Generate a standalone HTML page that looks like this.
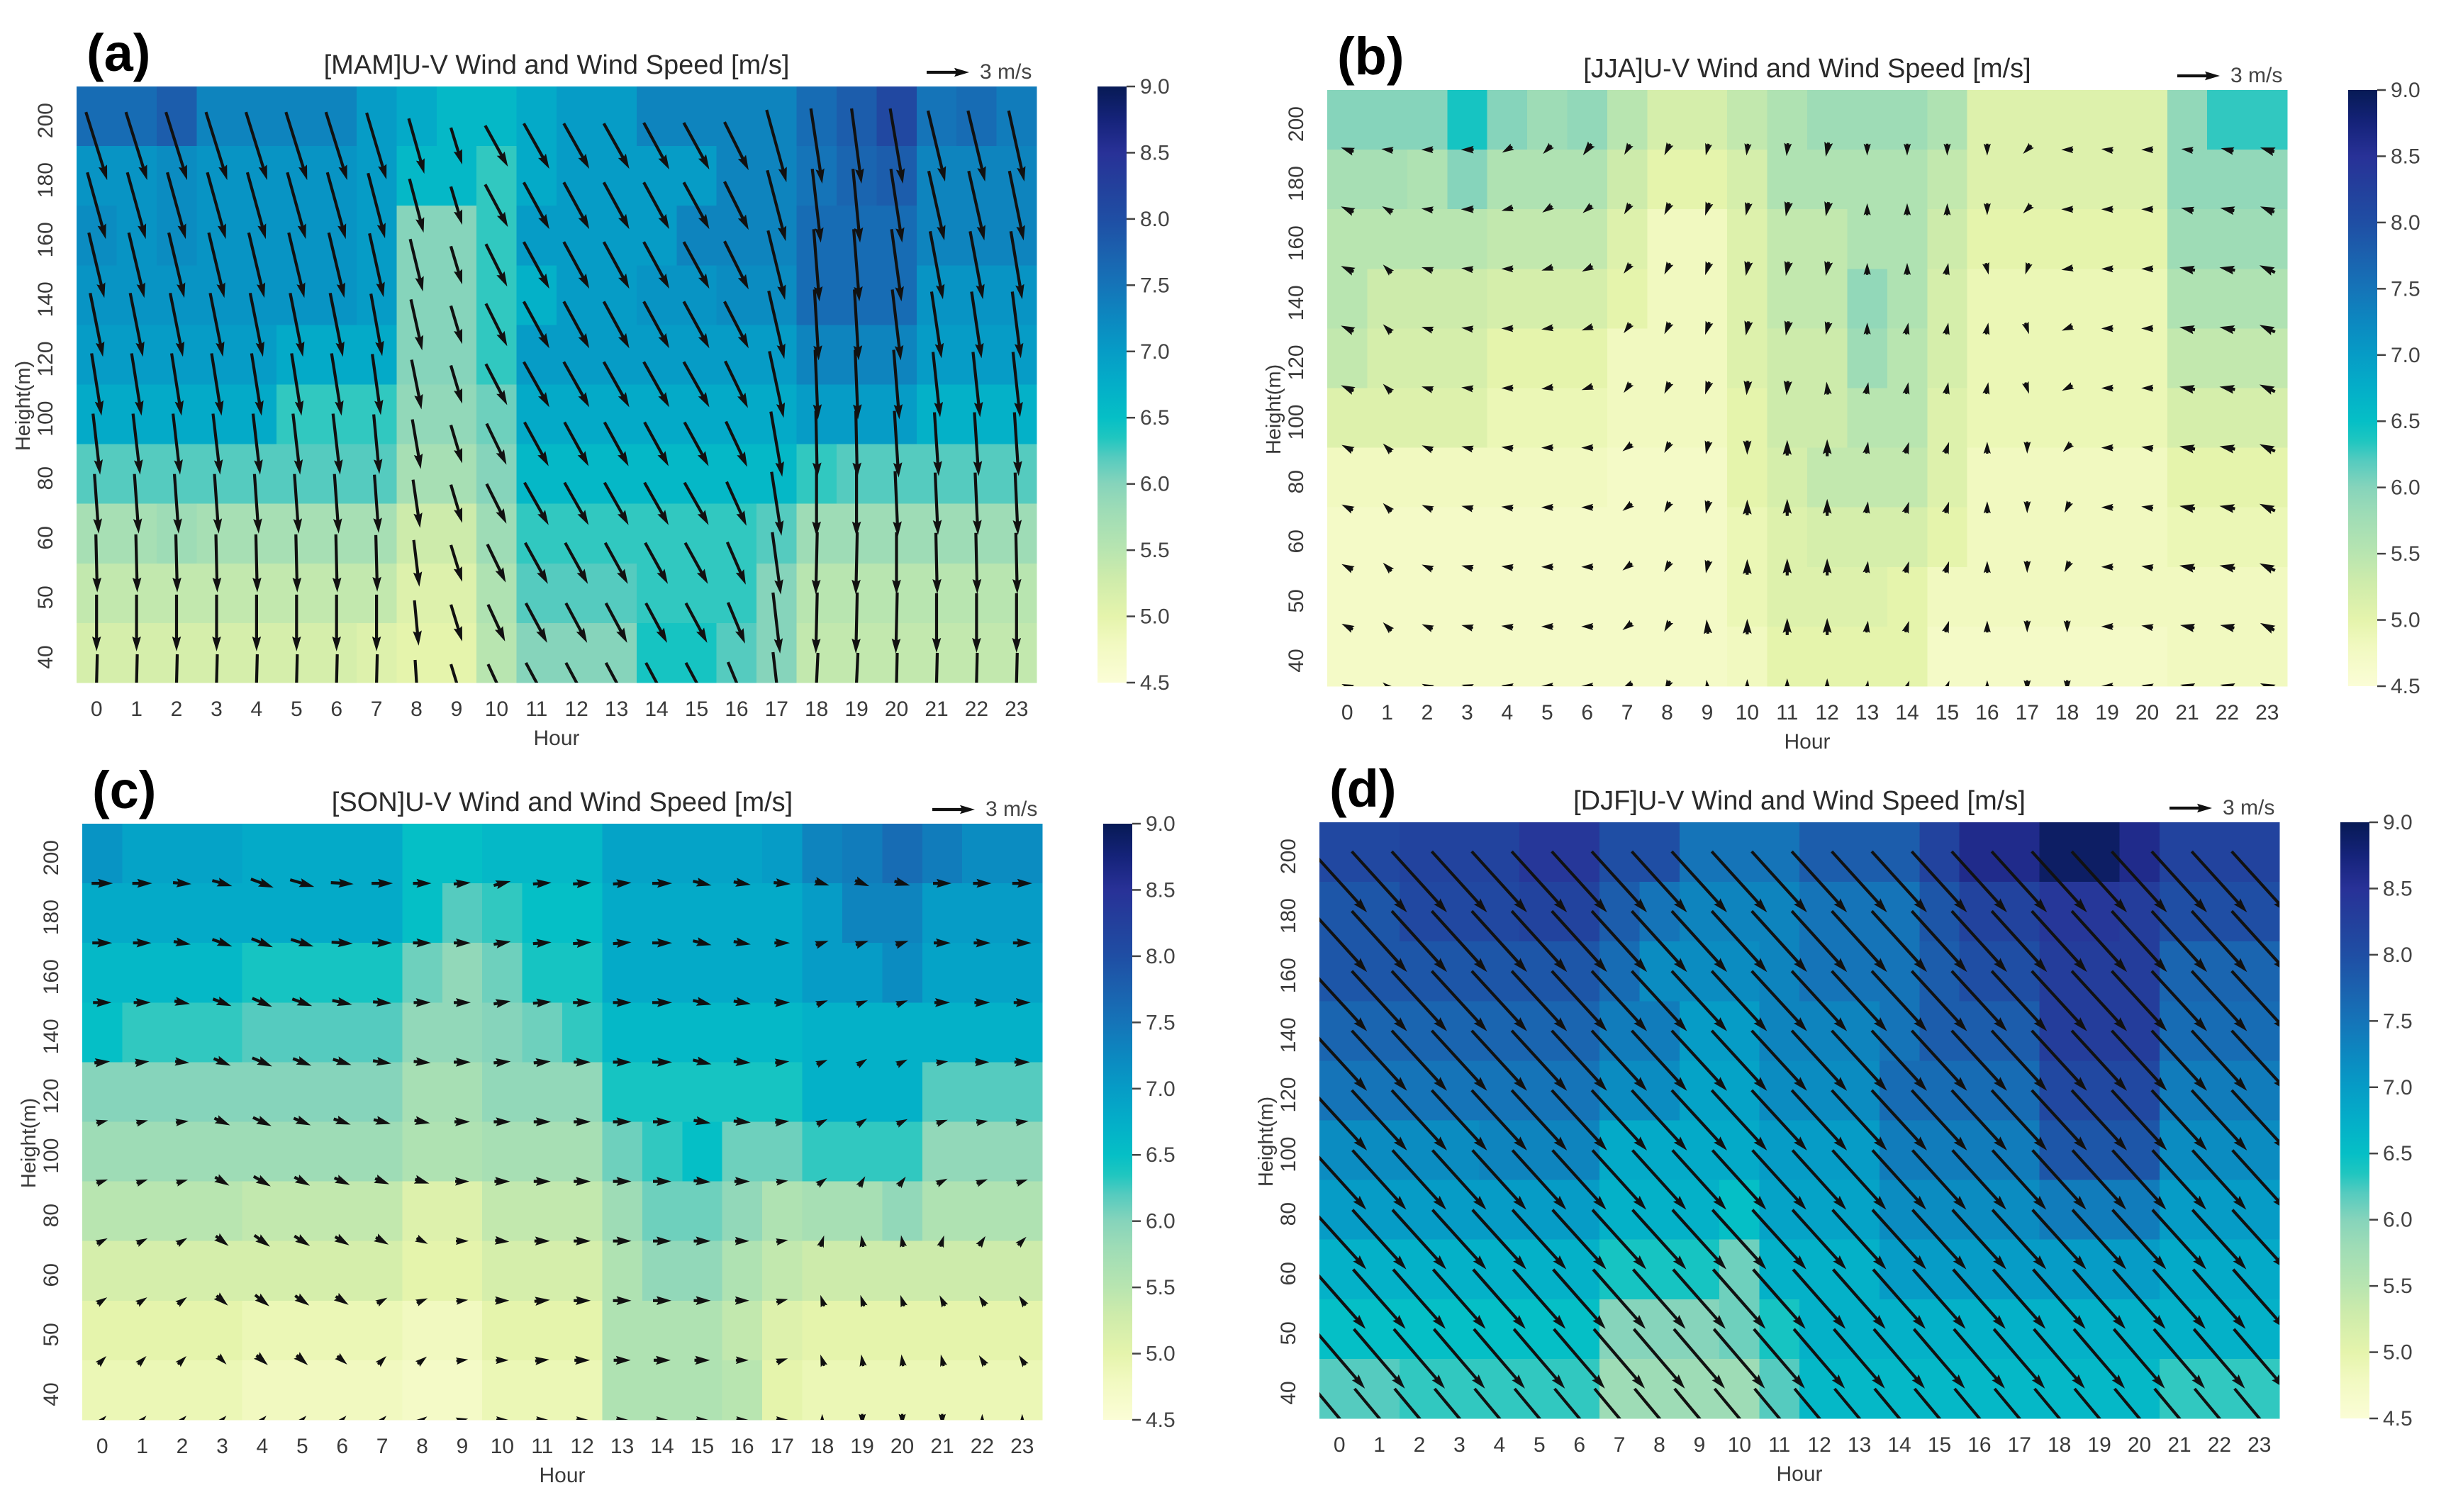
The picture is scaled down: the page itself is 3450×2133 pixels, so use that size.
<!DOCTYPE html>
<html><head><meta charset="utf-8">
<style>
html,body{margin:0;padding:0;background:#fff;}
svg{display:block;font-family:"Liberation Sans",sans-serif;}
</style></head>
<body>
<svg id="fig" width="3450" height="2133" viewBox="0 0 3450 2133" xmlns="http://www.w3.org/2000/svg">
<rect x="0" y="0" width="3450" height="2133" fill="#ffffff"/>
</svg>
<script>
// ---------- shared labels ----------
const hours = ["0","1","2","3","4","5","6","7","8","9","10","11","12","13","14","15","16","17","18","19","20","21","22","23"];
const heights = ["200","180","160","140","120","100","80","60","50","40"]; // top -> bottom
const cbarTicks = [4.5,5.0,5.5,6.0,6.5,7.0,7.5,8.0,8.5,9.0];
const vmin = 4.5, vmax = 9.0;

// ---------- (a) MAM ----------
const speedMAM = [
[7.6,7.6,7.8,7.3,7.3,7.3,7.3,7.0,6.8,6.6,6.6,6.8,7.0,7.0,7.3,7.3,7.3,7.3,7.6,7.8,8.1,7.5,7.6,7.4],
[7.1,7.1,7.2,7.1,7.1,7.1,7.1,7.0,6.6,6.6,6.3,6.8,7.0,7.0,7.0,7.0,7.3,7.3,7.5,7.7,7.8,7.3,7.3,7.3],
[7.2,7.1,7.2,7.1,7.1,7.1,7.1,7.0,6.0,6.0,6.3,7.0,7.0,7.0,7.0,7.3,7.3,7.3,7.6,7.6,7.6,7.3,7.3,7.3],
[7.1,7.1,7.1,7.1,7.1,7.1,7.1,7.0,6.0,6.0,6.3,6.7,7.0,7.0,7.1,7.1,7.2,7.2,7.6,7.6,7.6,7.1,7.1,7.1],
[7.0,7.0,7.0,7.0,7.0,6.8,6.8,6.8,6.0,6.0,6.3,7.0,7.0,7.0,7.0,7.0,7.0,7.0,7.3,7.3,7.3,7.0,7.0,7.0],
[6.8,6.8,6.8,6.8,6.8,6.3,6.3,6.3,5.9,5.9,6.1,6.8,6.8,6.8,6.8,6.8,6.8,6.8,7.0,7.0,7.0,6.7,6.7,6.7],
[6.2,6.2,6.2,6.2,6.2,6.2,6.2,6.2,5.7,5.7,6.0,6.6,6.6,6.6,6.6,6.6,6.6,6.6,6.3,6.2,6.2,6.2,6.2,6.2],
[5.7,5.7,5.8,5.7,5.7,5.7,5.7,5.7,5.3,5.3,5.8,6.3,6.3,6.3,6.3,6.3,6.3,6.2,5.8,5.8,5.8,5.8,5.8,5.8],
[5.4,5.4,5.4,5.4,5.4,5.4,5.4,5.4,5.1,5.1,5.6,6.2,6.2,6.2,6.3,6.3,6.3,6.0,5.5,5.5,5.5,5.5,5.5,5.5],
[5.2,5.2,5.2,5.2,5.2,5.2,5.2,5.1,5.0,5.0,5.5,6.0,6.0,6.0,6.4,6.4,6.2,6.0,5.4,5.4,5.4,5.4,5.4,5.4]];
const uMAM = [
[1.5,1.5,1.5,1.5,1.5,1.5,1.5,1.4,1.1,0.8,1.6,1.8,1.8,1.8,1.8,1.8,1.7,1.4,0.8,0.7,0.9,1.2,1.2,1.1],
[1.3,1.3,1.3,1.3,1.3,1.3,1.3,1.2,1.0,0.8,1.6,1.8,1.8,1.8,1.8,1.8,1.7,1.3,0.6,0.5,0.8,1.1,1.1,1.0],
[1.1,1.1,1.1,1.1,1.1,1.1,1.1,1.0,0.9,0.8,1.5,1.8,1.8,1.8,1.8,1.8,1.7,1.2,0.4,0.4,0.7,0.9,0.9,0.8],
[0.9,0.9,0.9,0.9,0.9,0.9,0.9,0.8,0.8,0.8,1.5,1.8,1.8,1.8,1.8,1.8,1.7,1.1,0.3,0.3,0.6,0.7,0.7,0.6],
[0.7,0.7,0.7,0.7,0.7,0.7,0.7,0.6,0.7,0.8,1.5,1.8,1.8,1.8,1.8,1.8,1.6,1.0,0.2,0.2,0.4,0.5,0.5,0.5],
[0.5,0.5,0.5,0.5,0.5,0.5,0.5,0.4,0.6,0.8,1.4,1.7,1.7,1.7,1.7,1.7,1.5,0.8,0.1,0.1,0.3,0.3,0.3,0.3],
[0.3,0.3,0.3,0.3,0.3,0.3,0.3,0.3,0.5,0.8,1.4,1.7,1.7,1.7,1.7,1.7,1.4,0.7,0.0,0.0,0.2,0.2,0.2,0.2],
[0.1,0.1,0.1,0.1,0.1,0.1,0.1,0.1,0.4,0.8,1.3,1.6,1.6,1.6,1.6,1.6,1.3,0.6,-0.1,-0.1,0.0,0.1,0.1,0.1],
[0.0,0.0,0.0,0.0,0.0,0.0,0.0,0.0,0.3,0.8,1.2,1.5,1.5,1.5,1.5,1.5,1.2,0.5,-0.1,-0.1,-0.1,0.0,0.0,0.0],
[-0.1,-0.1,-0.1,-0.1,-0.1,-0.1,-0.1,-0.1,0.2,0.8,1.2,1.5,1.5,1.5,1.5,1.5,1.2,0.5,-0.2,-0.2,-0.1,-0.1,-0.1,-0.1]];
const vMAM = [
[-4.8,-4.8,-4.8,-4.8,-4.8,-4.8,-4.8,-4.7,-3.9,-2.6,-2.9,-3.2,-3.2,-3.2,-3.3,-3.3,-3.4,-5.1,-5.3,-5.3,-5.3,-5.0,-5.0,-5.0],
[-4.7,-4.7,-4.7,-4.7,-4.7,-4.7,-4.7,-4.6,-3.8,-2.7,-3.0,-3.3,-3.3,-3.3,-3.3,-3.3,-3.4,-5.0,-5.2,-5.2,-5.2,-4.9,-4.9,-4.9],
[-4.6,-4.6,-4.6,-4.6,-4.6,-4.6,-4.6,-4.5,-3.7,-2.7,-3.0,-3.3,-3.3,-3.3,-3.3,-3.3,-3.4,-4.9,-5.1,-5.1,-5.1,-4.8,-4.8,-4.8],
[-4.5,-4.5,-4.5,-4.5,-4.5,-4.5,-4.5,-4.4,-3.6,-2.7,-3.0,-3.3,-3.3,-3.3,-3.3,-3.3,-3.3,-4.8,-5.0,-5.0,-5.0,-4.7,-4.7,-4.7],
[-4.4,-4.4,-4.4,-4.4,-4.4,-4.4,-4.4,-4.3,-3.5,-2.7,-2.9,-3.2,-3.2,-3.2,-3.2,-3.2,-3.3,-4.7,-4.9,-4.9,-4.9,-4.6,-4.6,-4.6],
[-4.3,-4.3,-4.3,-4.3,-4.3,-4.3,-4.3,-4.2,-3.5,-2.7,-2.9,-3.1,-3.1,-3.1,-3.1,-3.1,-3.2,-4.6,-4.7,-4.7,-4.7,-4.5,-4.5,-4.5],
[-4.2,-4.2,-4.2,-4.2,-4.2,-4.2,-4.2,-4.1,-3.4,-2.7,-2.8,-3.0,-3.0,-3.0,-3.0,-3.0,-3.1,-4.5,-4.6,-4.6,-4.6,-4.4,-4.4,-4.4],
[-4.1,-4.1,-4.1,-4.1,-4.1,-4.1,-4.1,-4.0,-3.3,-2.6,-2.7,-2.9,-2.9,-2.9,-2.9,-2.9,-3.0,-4.4,-4.4,-4.4,-4.4,-4.3,-4.3,-4.3],
[-4.0,-4.0,-4.0,-4.0,-4.0,-4.0,-4.0,-4.0,-3.2,-2.6,-2.6,-2.8,-2.8,-2.8,-2.8,-2.8,-2.9,-4.3,-4.3,-4.3,-4.3,-4.2,-4.2,-4.2],
[-4.0,-4.0,-4.0,-4.0,-4.0,-4.0,-4.0,-4.0,-3.2,-2.6,-2.6,-2.8,-2.8,-2.8,-2.8,-2.8,-2.9,-4.3,-4.2,-4.2,-4.2,-4.2,-4.2,-4.2]];

// ---------- (b) JJA ----------
const speedJJA = [
[6.0,6.0,6.0,6.4,6.0,5.8,5.9,5.5,5.2,5.2,5.4,5.6,5.8,5.8,5.8,5.6,5.1,5.1,5.1,5.1,5.1,5.9,6.3,6.3],
[5.7,5.7,5.6,6.0,5.6,5.6,5.6,5.3,5.0,5.0,5.2,5.6,5.6,5.6,5.6,5.4,5.1,5.1,5.1,5.1,5.1,5.9,5.9,5.9],
[5.5,5.5,5.5,5.5,5.4,5.4,5.4,5.1,4.8,4.8,5.1,5.4,5.4,5.6,5.6,5.3,5.0,5.0,5.0,5.0,5.0,5.8,5.8,5.8],
[5.5,5.3,5.3,5.3,5.2,5.2,5.2,5.0,4.8,4.8,5.1,5.4,5.4,5.9,5.6,5.2,4.9,4.9,4.9,4.9,4.9,5.6,5.6,5.6],
[5.4,5.2,5.2,5.2,5.0,5.0,5.0,4.8,4.8,4.8,5.1,5.3,5.3,5.8,5.5,5.2,4.9,4.9,4.9,4.9,4.9,5.4,5.4,5.4],
[5.1,5.1,5.1,5.1,4.9,4.9,4.9,4.8,4.8,4.8,5.0,5.3,5.3,5.5,5.5,5.1,4.9,4.9,4.9,4.9,4.9,5.2,5.2,5.2],
[4.8,4.8,4.8,4.8,4.8,4.8,4.8,4.7,4.7,4.7,5.0,5.2,5.4,5.4,5.4,5.1,4.8,4.8,4.8,4.8,4.8,5.0,5.0,5.0],
[4.7,4.7,4.7,4.7,4.7,4.7,4.7,4.7,4.7,4.7,4.9,5.1,5.2,5.2,5.2,5.0,4.8,4.8,4.8,4.8,4.8,4.9,4.9,4.9],
[4.7,4.7,4.7,4.7,4.7,4.7,4.7,4.7,4.7,4.7,4.9,5.1,5.1,5.1,5.0,4.8,4.8,4.8,4.8,4.8,4.8,4.8,4.8,4.8],
[4.7,4.7,4.7,4.7,4.7,4.7,4.7,4.7,4.7,4.7,4.8,5.0,5.0,5.0,5.0,4.7,4.7,4.7,4.7,4.7,4.7,4.8,4.8,4.8]];
const uJJA = [
[-0.9,-0.8,-0.8,-0.9,-0.7,-0.6,-0.6,-0.4,-0.4,-0.2,-0.1,-0.1,-0.2,0.0,0.0,0.0,0.0,-0.2,-0.7,-0.8,-0.7,-0.8,-0.9,-1.0],
[-0.9,-0.7,-0.8,-0.9,-0.8,-0.6,-0.6,-0.3,-0.4,-0.3,-0.2,-0.2,-0.2,0.0,0.0,0.0,0.0,-0.2,-0.7,-0.8,-0.8,-0.9,-1.0,-1.0],
[-0.9,-0.6,-0.7,-0.8,-0.8,-0.7,-0.6,-0.3,-0.4,-0.3,-0.2,-0.2,-0.2,0.0,0.0,0.1,0.1,-0.1,-0.6,-0.8,-0.8,-1.1,-1.1,-1.1],
[-0.9,-0.6,-0.7,-0.8,-0.8,-0.7,-0.6,-0.3,-0.4,-0.3,-0.2,-0.2,-0.2,0.0,0.1,0.1,0.1,0.1,-0.5,-0.7,-0.8,-1.1,-1.1,-1.1],
[-0.9,-0.6,-0.7,-0.8,-0.8,-0.7,-0.6,-0.3,-0.4,-0.3,-0.1,-0.1,-0.1,0.1,0.1,0.1,0.1,0.1,-0.4,-0.6,-0.8,-1.1,-1.1,-1.1],
[-0.8,-0.6,-0.7,-0.8,-0.8,-0.8,-0.7,-0.4,-0.4,-0.2,0.0,0.0,0.0,0.1,0.2,0.2,0.0,0.0,-0.2,-0.5,-0.7,-1.1,-1.1,-1.1],
[-0.8,-0.6,-0.7,-0.8,-0.8,-0.8,-0.7,-0.4,-0.4,-0.2,0.0,0.0,0.0,0.1,0.2,0.2,0.0,0.0,-0.1,-0.4,-0.7,-1.1,-1.1,-1.1],
[-0.8,-0.6,-0.7,-0.8,-0.8,-0.8,-0.7,-0.4,-0.4,-0.2,0.0,0.0,0.0,0.1,0.2,0.2,0.0,0.0,-0.1,-0.4,-0.7,-1.1,-1.1,-1.1],
[-0.8,-0.6,-0.7,-0.8,-0.8,-0.8,-0.7,-0.4,-0.4,-0.1,0.0,0.0,0.0,0.1,0.2,0.2,0.0,0.0,0.0,-0.3,-0.6,-1.0,-1.0,-1.0],
[-0.8,-0.6,-0.7,-0.8,-0.8,-0.8,-0.7,-0.4,-0.3,-0.1,0.0,0.0,0.0,0.1,0.2,0.2,0.0,0.0,0.0,-0.3,-0.6,-1.0,-1.0,-1.0]];
const vJJA = [
[0.3,0.1,0.0,0.0,-0.4,-0.6,-0.8,-0.7,-0.8,-0.8,-0.8,-0.9,-1.0,-0.5,-0.4,-0.3,-0.2,-0.2,0.0,0.1,0.0,0.1,0.2,0.3],
[0.4,0.4,0.1,0.0,-0.2,-0.4,-0.5,-0.5,-0.8,-0.9,-0.9,-1.0,-1.0,0.4,0.4,0.5,-0.3,-0.2,0.0,0.0,0.0,0.2,0.2,0.4],
[0.4,0.6,0.2,0.1,0.0,-0.2,-0.3,-0.4,-0.8,-0.9,-1.0,-1.0,-1.0,0.5,0.5,0.5,-0.4,-0.3,-0.1,0.0,0.0,0.2,0.2,0.5],
[0.4,0.6,0.2,0.1,0.0,-0.1,-0.2,-0.4,-0.8,-0.9,-1.0,-1.0,-0.9,0.5,0.5,0.5,0.5,-0.3,-0.2,0.0,0.0,0.2,0.2,0.5],
[0.4,0.6,0.2,0.1,0.0,-0.1,-0.2,-0.4,-0.8,-0.9,-1.0,-1.0,0.9,0.5,0.5,0.5,0.5,-0.3,-0.2,0.0,0.0,0.2,0.2,0.5],
[0.4,0.6,0.3,0.2,0.1,0.0,0.0,-0.3,-0.7,-0.9,-1.0,1.1,1.2,0.6,0.6,0.6,0.6,-0.3,-0.2,0.0,0.1,0.2,0.2,0.5],
[0.4,0.6,0.3,0.2,0.1,0.0,0.0,-0.3,-0.7,-0.9,1.1,1.2,1.2,0.7,0.6,0.6,0.7,-0.3,-0.2,0.0,0.1,0.2,0.2,0.5],
[0.4,0.6,0.3,0.2,0.1,0.0,0.0,-0.3,-0.7,-0.9,1.1,1.2,1.2,0.7,0.6,0.6,0.7,-0.3,-0.2,0.0,0.1,0.2,0.2,0.5],
[0.4,0.6,0.3,0.2,0.1,0.0,0.0,-0.3,-0.7,1.0,1.1,1.2,1.2,0.7,0.6,0.6,0.7,-0.3,-0.1,0.0,0.1,0.2,0.2,0.5],
[0.3,0.5,0.3,0.2,0.1,0.0,0.0,-0.2,-0.6,0.9,1.0,1.1,1.1,0.6,0.5,0.5,0.6,-0.2,-0.1,0.0,0.1,0.2,0.2,0.4]];

// ---------- (c) SON ----------
const speedSON = [
[7.1,6.9,6.9,6.9,6.8,6.8,6.8,6.8,6.5,6.5,6.6,6.6,6.6,6.9,6.9,6.9,6.9,7.0,7.3,7.4,7.6,7.4,7.2,7.2],
[6.8,6.8,6.8,6.8,6.8,6.8,6.8,6.8,6.5,6.2,6.3,6.5,6.5,6.8,6.8,6.8,6.8,6.8,7.0,7.3,7.3,7.0,7.0,7.0],
[6.6,6.6,6.6,6.6,6.4,6.4,6.4,6.4,6.1,5.9,6.1,6.4,6.4,6.8,6.8,6.8,6.8,6.8,7.0,7.0,7.2,6.9,6.9,6.9],
[6.5,6.3,6.3,6.3,6.2,6.2,6.2,6.2,5.9,5.9,6.0,6.1,6.3,6.6,6.6,6.6,6.6,6.6,6.7,6.7,6.7,6.7,6.7,6.7],
[6.0,6.0,6.0,6.0,6.0,6.0,6.0,6.0,5.7,5.7,5.9,5.9,5.9,6.4,6.4,6.4,6.4,6.4,6.7,6.7,6.7,6.2,6.2,6.2],
[5.8,5.8,5.8,5.8,5.8,5.8,5.8,5.8,5.6,5.6,5.7,5.7,5.7,6.1,6.3,6.5,6.1,6.1,6.3,6.3,6.3,5.9,5.9,5.9],
[5.5,5.5,5.5,5.5,5.4,5.4,5.4,5.4,5.1,5.1,5.4,5.4,5.4,5.8,6.1,6.1,5.9,5.6,5.7,5.7,5.9,5.6,5.6,5.6],
[5.2,5.2,5.2,5.2,5.2,5.2,5.2,5.2,5.0,5.0,5.2,5.2,5.2,5.6,5.9,5.9,5.6,5.4,5.3,5.3,5.3,5.3,5.3,5.3],
[5.0,5.0,5.0,5.0,4.9,4.9,4.9,4.9,4.8,4.8,5.0,5.0,5.0,5.6,5.6,5.6,5.4,5.1,5.0,5.0,5.0,5.0,5.0,5.0],
[4.9,4.9,4.9,4.9,4.8,4.8,4.8,4.8,4.7,4.7,4.9,4.9,4.9,5.6,5.6,5.6,5.5,5.0,4.9,4.9,4.9,4.9,4.9,4.9]];
const uSON = [
[1.5,1.4,1.3,1.4,1.6,1.7,1.6,1.5,1.3,1.2,1.2,1.3,1.3,1.3,1.4,1.3,1.2,1.2,1.0,1.0,1.1,1.3,1.3,1.4],
[1.4,1.3,1.2,1.4,1.5,1.6,1.5,1.4,1.3,1.2,1.2,1.3,1.3,1.3,1.4,1.3,1.2,1.1,0.9,0.9,0.9,1.2,1.2,1.3],
[1.3,1.2,1.1,1.3,1.4,1.4,1.4,1.3,1.2,1.2,1.2,1.3,1.3,1.3,1.4,1.3,1.2,1.1,0.8,0.8,0.8,1.1,1.1,1.2],
[1.1,1.0,1.0,1.2,1.4,1.3,1.3,1.3,1.2,1.2,1.2,1.2,1.2,1.3,1.4,1.3,1.2,1.0,0.7,0.6,0.6,0.8,1.0,1.1],
[0.8,0.8,0.9,1.1,1.3,1.2,1.2,1.2,1.1,1.1,1.2,1.2,1.2,1.3,1.3,1.2,1.2,1.0,0.6,0.6,0.6,0.6,0.7,0.9],
[0.6,0.6,0.7,1.0,1.2,1.1,1.1,1.0,1.0,1.0,1.1,1.2,1.2,1.3,1.3,1.2,1.1,0.8,0.4,0.3,0.3,0.4,0.5,0.6],
[0.4,0.4,0.5,0.9,1.1,1.1,1.0,0.9,0.8,0.9,1.0,1.1,1.2,1.3,1.3,1.2,1.0,0.6,0.1,-0.1,-0.1,0.1,0.2,0.3],
[0.3,0.3,0.4,0.8,1.0,1.0,0.9,0.7,0.7,0.8,1.0,1.1,1.2,1.3,1.3,1.2,1.0,0.4,-0.1,-0.2,-0.2,-0.2,-0.2,-0.2],
[0.2,0.2,0.3,0.6,0.8,0.8,0.7,0.5,0.5,0.7,0.9,1.0,1.1,1.2,1.2,1.1,0.9,0.3,-0.1,-0.1,-0.1,-0.1,-0.2,-0.2],
[0.1,0.1,0.2,0.3,0.3,0.3,0.3,0.3,0.3,0.5,0.6,0.7,0.7,0.7,0.7,0.7,0.6,0.2,0.0,0.0,0.0,0.0,0.0,0.0]];
const vSON = [
[0.0,0.0,-0.1,-0.4,-0.6,-0.5,-0.1,0.0,0.0,0.1,0.3,0.1,0.1,0.1,0.0,-0.3,-0.2,-0.1,-0.3,-0.4,-0.3,0.0,0.0,0.0],
[0.0,0.0,-0.2,-0.5,-0.6,-0.5,-0.1,0.0,0.0,0.0,0.2,0.1,0.1,0.1,0.0,-0.3,-0.2,0.0,0.3,0.3,0.3,0.0,0.0,0.0],
[0.0,0.0,-0.2,-0.5,-0.6,-0.5,-0.3,-0.1,0.0,0.0,0.2,0.1,0.0,0.0,0.0,-0.3,-0.2,0.0,0.3,0.3,0.3,0.0,0.0,0.0],
[0.1,0.1,-0.1,-0.5,-0.6,-0.5,-0.4,-0.2,-0.1,0.0,0.1,0.1,0.0,0.0,0.0,-0.3,-0.1,0.1,0.3,0.4,0.3,0.1,0.0,0.0],
[0.2,0.2,0.1,-0.5,-0.6,-0.5,-0.4,-0.3,-0.2,0.0,0.0,0.0,0.0,0.0,0.0,-0.2,-0.1,0.1,0.3,0.4,0.3,0.2,0.1,0.1],
[0.2,0.2,0.2,-0.6,-0.7,-0.6,-0.5,-0.4,-0.3,0.0,0.0,0.0,0.0,0.0,0.0,-0.1,0.0,0.1,0.3,0.5,0.4,0.2,0.2,0.2],
[0.2,0.2,0.3,-0.7,-0.8,-0.7,-0.6,-0.5,-0.4,0.0,-0.1,0.0,0.0,0.0,0.0,0.0,0.0,0.1,0.3,0.6,0.5,0.3,0.3,0.3],
[0.2,0.2,0.3,-0.7,-0.8,-0.7,-0.6,0.4,0.3,0.1,0.0,0.1,0.0,0.0,0.0,0.0,0.0,0.1,0.3,0.6,0.6,0.4,0.3,0.3],
[0.2,0.2,0.3,-0.6,-0.7,-0.7,-0.6,0.5,0.4,0.1,0.0,0.1,0.0,0.0,0.0,0.0,0.0,0.1,0.3,0.6,0.7,0.4,0.3,0.3],
[0.1,0.1,0.2,0.3,0.3,0.3,0.3,0.3,0.2,0.1,0.0,0.0,0.0,0.0,0.0,0.0,0.0,0.0,0.2,-0.3,-0.3,-0.2,0.1,0.1]];

// ---------- (d) DJF ----------
const speedDJF = [
[8.1,8.1,8.2,8.2,8.2,8.4,8.4,8.0,8.0,7.5,7.5,7.5,7.8,7.8,7.8,8.2,8.6,8.6,8.9,8.9,8.6,8.2,8.2,8.2],
[7.9,7.9,8.1,8.1,8.1,8.2,8.2,7.8,7.5,7.3,7.3,7.3,7.5,7.5,7.5,7.9,8.2,8.2,8.4,8.4,8.3,8.0,8.0,8.0],
[7.9,7.9,7.9,7.9,7.9,7.9,7.9,7.6,7.2,7.2,7.2,7.3,7.5,7.5,7.5,7.8,8.0,8.0,8.3,8.3,8.3,7.7,7.7,7.7],
[7.7,7.7,7.7,7.7,7.7,7.7,7.7,7.4,7.4,7.0,7.0,7.3,7.3,7.3,7.5,7.8,7.8,7.8,8.3,8.3,8.3,7.6,7.6,7.6],
[7.5,7.5,7.5,7.5,7.5,7.5,7.5,7.2,7.2,6.9,6.9,7.2,7.2,7.2,7.6,7.6,7.6,7.6,8.1,8.1,8.1,7.4,7.4,7.4],
[7.2,7.2,7.2,7.2,7.3,7.3,7.3,6.8,6.8,6.8,6.8,7.0,7.0,7.0,7.4,7.4,7.4,7.4,7.9,7.9,7.9,7.2,7.2,7.2],
[7.0,7.0,7.0,7.0,7.0,7.0,7.0,6.7,6.7,6.7,6.5,6.9,6.9,6.9,7.2,7.2,7.2,7.2,7.4,7.4,7.4,7.0,7.0,7.0],
[6.7,6.7,6.7,6.7,6.7,6.7,6.7,6.4,6.4,6.4,6.1,6.7,6.7,6.7,7.0,7.0,7.0,7.0,7.0,7.0,7.0,6.8,6.8,6.8],
[6.5,6.5,6.5,6.5,6.5,6.5,6.5,6.0,6.0,6.0,6.1,6.4,6.7,6.7,6.7,6.7,6.7,6.7,6.7,6.7,6.7,6.7,6.7,6.7],
[6.2,6.2,6.3,6.3,6.3,6.3,6.3,5.8,5.8,5.8,5.8,6.2,6.6,6.6,6.6,6.6,6.6,6.6,6.6,6.6,6.6,6.3,6.3,6.3]];
const uDJF = [
[3.9,3.9,3.9,3.9,3.9,3.9,3.9,3.9,3.9,3.9,3.9,3.9,3.9,3.9,3.9,3.9,3.9,3.9,3.9,3.9,3.9,3.9,3.9,3.9],
[3.9,3.9,3.9,3.9,3.9,3.9,3.9,3.9,3.9,3.9,3.9,3.9,3.9,3.9,3.9,3.9,3.9,3.9,3.9,3.9,3.9,3.9,3.9,3.9],
[3.9,3.9,3.9,3.9,3.9,3.9,3.9,3.9,3.9,3.9,3.9,3.9,3.9,3.9,3.9,3.9,3.9,3.9,3.9,3.9,3.9,3.9,3.9,3.9],
[3.9,3.9,3.9,3.9,3.9,3.9,3.9,3.9,3.9,3.9,3.9,3.9,3.9,3.9,3.9,3.9,3.9,3.9,3.9,3.9,3.9,3.9,3.9,3.9],
[3.9,3.9,3.9,3.9,3.9,3.9,3.9,3.9,3.9,3.9,3.9,3.9,3.9,3.9,3.9,3.9,3.9,3.9,3.9,3.9,3.9,3.9,3.9,3.9],
[3.8,3.8,3.8,3.8,3.8,3.8,3.8,3.8,3.8,3.8,3.8,3.8,3.8,3.8,3.8,3.8,3.8,3.8,3.8,3.8,3.8,3.8,3.8,3.8],
[3.8,3.8,3.8,3.8,3.8,3.8,3.8,3.8,3.8,3.8,3.8,3.8,3.8,3.8,3.8,3.8,3.8,3.8,3.8,3.8,3.8,3.8,3.8,3.8],
[3.7,3.7,3.7,3.7,3.7,3.7,3.7,3.7,3.7,3.7,3.7,3.7,3.7,3.7,3.7,3.7,3.7,3.7,3.7,3.7,3.7,3.7,3.7,3.7],
[3.6,3.6,3.6,3.6,3.6,3.6,3.6,3.6,3.6,3.6,3.6,3.6,3.6,3.6,3.6,3.6,3.6,3.6,3.6,3.6,3.6,3.6,3.6,3.6],
[3.5,3.5,3.5,3.5,3.5,3.5,3.5,3.5,3.5,3.5,3.5,3.5,3.5,3.5,3.5,3.5,3.5,3.5,3.5,3.5,3.5,3.5,3.5,3.5]];
const vDJF = [
[-4.3,-4.3,-4.3,-4.3,-4.3,-4.3,-4.3,-4.3,-4.3,-4.3,-4.3,-4.3,-4.3,-4.3,-4.3,-4.3,-4.3,-4.3,-4.3,-4.3,-4.3,-4.3,-4.3,-4.3],
[-4.3,-4.3,-4.3,-4.3,-4.3,-4.3,-4.3,-4.3,-4.3,-4.3,-4.3,-4.3,-4.3,-4.3,-4.3,-4.3,-4.3,-4.3,-4.3,-4.3,-4.3,-4.3,-4.3,-4.3],
[-4.25,-4.25,-4.25,-4.25,-4.25,-4.25,-4.25,-4.25,-4.25,-4.25,-4.25,-4.25,-4.25,-4.25,-4.25,-4.25,-4.25,-4.25,-4.25,-4.25,-4.25,-4.25,-4.25,-4.25],
[-4.25,-4.25,-4.25,-4.25,-4.25,-4.25,-4.25,-4.25,-4.25,-4.25,-4.25,-4.25,-4.25,-4.25,-4.25,-4.25,-4.25,-4.25,-4.25,-4.25,-4.25,-4.25,-4.25,-4.25],
[-4.25,-4.25,-4.25,-4.25,-4.25,-4.25,-4.25,-4.25,-4.25,-4.25,-4.25,-4.25,-4.25,-4.25,-4.25,-4.25,-4.25,-4.25,-4.25,-4.25,-4.25,-4.25,-4.25,-4.25],
[-4.2,-4.2,-4.2,-4.2,-4.2,-4.2,-4.2,-4.2,-4.2,-4.2,-4.2,-4.2,-4.2,-4.2,-4.2,-4.2,-4.2,-4.2,-4.2,-4.2,-4.2,-4.2,-4.2,-4.2],
[-4.2,-4.2,-4.2,-4.2,-4.2,-4.2,-4.2,-4.2,-4.2,-4.2,-4.2,-4.2,-4.2,-4.2,-4.2,-4.2,-4.2,-4.2,-4.2,-4.2,-4.2,-4.2,-4.2,-4.2],
[-4.2,-4.2,-4.2,-4.2,-4.2,-4.2,-4.2,-4.2,-4.2,-4.2,-4.2,-4.2,-4.2,-4.2,-4.2,-4.2,-4.2,-4.2,-4.2,-4.2,-4.2,-4.2,-4.2,-4.2],
[-4.2,-4.2,-4.2,-4.2,-4.2,-4.2,-4.2,-4.2,-4.2,-4.2,-4.2,-4.2,-4.2,-4.2,-4.2,-4.2,-4.2,-4.2,-4.2,-4.2,-4.2,-4.2,-4.2,-4.2],
[-4.2,-4.2,-4.2,-4.2,-4.2,-4.2,-4.2,-4.2,-4.2,-4.2,-4.2,-4.2,-4.2,-4.2,-4.2,-4.2,-4.2,-4.2,-4.2,-4.2,-4.2,-4.2,-4.2,-4.2]];

// ---------- colormap ----------
const cmapVals = [4.5,4.8,5.0,5.3,5.5,5.8,6.0,6.2,6.35,6.5,6.75,7.0,7.25,7.5,7.75,8.0,8.25,8.5,8.75,9.0];
const cmapCols = ["#fbfdd6","#f1f9c0","#e5f4ac","#cdebab","#b8e5b0","#9edcb6","#86d4bb","#55cbbf","#1fc6c0","#05bfc6","#04aec8","#069cc6","#0c88c0","#1574b8","#1b61ae","#1f4ea4","#23409c","#283197","#15237a","#071a55"];
function hex2rgb(h){return [parseInt(h.substr(1,2),16),parseInt(h.substr(3,2),16),parseInt(h.substr(5,2),16)];}
function cmap(v){
  if(v<=cmapVals[0]) return cmapCols[0];
  for(let i=1;i<cmapVals.length;i++){
    if(v<=cmapVals[i]){
      const t=(v-cmapVals[i-1])/(cmapVals[i]-cmapVals[i-1]);
      const a=hex2rgb(cmapCols[i-1]), b=hex2rgb(cmapCols[i]);
      return "rgb("+a.map((x,k)=>Math.round(x+(b[k]-x)*t)).join(",")+")";
    }
  }
  return cmapCols[cmapCols.length-1];
}

const NS="http://www.w3.org/2000/svg";
const svg=document.getElementById('fig');
const defs=document.createElementNS(NS,'defs');
svg.appendChild(defs);
function mk(tag,attrs,parent){const e=document.createElementNS(NS,tag);for(const k in attrs)e.setAttribute(k,attrs[k]);(parent||svg).appendChild(e);return e;}

const grad=mk('linearGradient',{id:'cbgrad',x1:'0',y1:'1',x2:'0',y2:'0'},defs);
cmapVals.forEach((v,i)=>{mk('stop',{offset:((v-vmin)/(vmax-vmin)).toFixed(4),'stop-color':cmapCols[i]},grad);});

const PX_PER_MS = 20, SHAFT = 4.2;
function arrowPts(x0,y0,dx,dy){
  const L=Math.hypot(dx,dy); if(L<0.5) return null;
  const ux=dx/L, uy=dy/L, nx=-uy, ny=ux;
  const hw=SHAFT/2, hl=5*SHAFT, hal=4.5*SHAFT, hh=1.5*SHAFT;
  let s=1, len=L;
  if(L<hl){ s=Math.max(L/hl,0.8); len=hl; }
  const pts=[[0,hw],[len-hal,hw],[len-hl,hh],[len,0],[len-hl,-hh],[len-hal,-hw],[0,-hw]];
  const off=(L<hl)?(L-len*s)/2:0;
  return pts.map(p=>{const a=p[0]*s+off, b=p[1]*s; return (x0+ux*a+nx*b).toFixed(1)+","+(y0+uy*a+ny*b).toFixed(1);}).join(" ");
}

const W=1354, H=841;
function drawPanel(P){
  const g=mk('g',{});
  
  
  const cw=W/24, rh=H/10;
  const xC=c=>P.x+(c+0.5)*cw;
  const yTop=r=>P.y+r*rh;
  const hm=mk('g',{'shape-rendering':'crispEdges'},g);
  
  
  P.speed.forEach((row,r)=>row.forEach((v,c)=>{
    const rc=mk('rect',{x:(P.x+c*cw).toFixed(2),y:yTop(r).toFixed(2),width:(cw+0.6).toFixed(2),height:(rh+0.6).toFixed(2),fill:cmap(v)},hm);
    
    
  }));
  const cp=mk('clipPath',{id:'clip-'+P.key},defs);
  mk('rect',{x:P.x,y:P.y,width:W,height:H},cp);
  const ag=mk('g',{'clip-path':'url(#clip-'+P.key+')'},g);
  
  
  P.u.forEach((row,r)=>row.forEach((u,c)=>{
    const v=P.v[r][c];
    const dx=u*PX_PER_MS, dy=-v*PX_PER_MS;
    const cx=xC(c), cy=yTop(r+1);
    const pts=arrowPts(cx-dx/2,cy-dy/2,dx,dy);
    if(pts){const a=mk('polygon',{points:pts,fill:'#111'},ag);
      
      }
  }));
  hours.forEach((h,c)=>{
    const t=mk('text',{x:xC(c).toFixed(1),y:P.y+H+47,'font-size':30,fill:'#3a3a3a','text-anchor':'middle'},g);
    t.textContent=h;
    
    
  });
  const xl=mk('text',{x:P.x+W/2,y:P.y+H+88,'font-size':30,fill:'#3a3a3a','text-anchor':'middle'},g);
  xl.textContent='Hour';
  
  
  heights.forEach((h,r)=>{
    const yy=yTop(r)+rh/2+6, xx=P.x-34;
    const t=mk('text',{x:xx,y:yy,'font-size':30,fill:'#3a3a3a','text-anchor':'middle',transform:'rotate(-90 '+xx+' '+yy+')'},g);
    t.textContent=h;
    
    
  });
  const yx=P.x-66, yy=P.y+H/2+30;
  const yl=mk('text',{x:yx,y:yy,'font-size':29,fill:'#3a3a3a','text-anchor':'middle',transform:'rotate(-90 '+yx+' '+yy+')'},g);
  yl.textContent='Height(m)';
  
  
  const tt=mk('text',{x:P.x+W/2,y:P.y-18,'font-size':38,fill:'#2a2a2a','text-anchor':'middle'},g);
  tt.textContent='['+P.key.toUpperCase()+']U-V Wind and Wind Speed [m/s]';
  
  
  const pl=mk('text',{x:P.x+14,y:P.y-22,'font-size':74,'font-weight':'bold',fill:'#000'},g);
  pl.textContent='('+P.letter+')';
  
  
  const kp=arrowPts(P.x+1199,P.y-20,3*PX_PER_MS,0);
  const ka=mk('polygon',{points:kp,fill:'#111'},g);
  
  
  const kt=mk('text',{x:P.x+1274,y:P.y-11,'font-size':30,fill:'#444'},g);
  kt.textContent='3 m/s';
  
  
  const cbx=P.x+1440;
  const cb=mk('rect',{x:cbx,y:P.y,width:41,height:H,fill:'url(#cbgrad)'},g);
  
  
  cbarTicks.forEach(v=>{
    const yv=P.y+H-(v-vmin)/(vmax-vmin)*H;
    mk('line',{x1:cbx+41,x2:cbx+53,y1:yv,y2:yv,stroke:'#444','stroke-width':2.5},g);
    const t=mk('text',{x:cbx+60,y:yv+10,'font-size':30,fill:'#444'},g);
    t.textContent=v.toFixed(1);
    
    
  });
}

drawPanel({key:'mam',letter:'a',x:108,y:122,speed:speedMAM,u:uMAM,v:vMAM});
drawPanel({key:'jja',letter:'b',x:1872,y:127,speed:speedJJA,u:uJJA,v:vJJA});
drawPanel({key:'son',letter:'c',x:116,y:1162,speed:speedSON,u:uSON,v:vSON});
drawPanel({key:'djf',letter:'d',x:1861,y:1160,speed:speedDJF,u:uDJF,v:vDJF});
</script>
</body></html>
